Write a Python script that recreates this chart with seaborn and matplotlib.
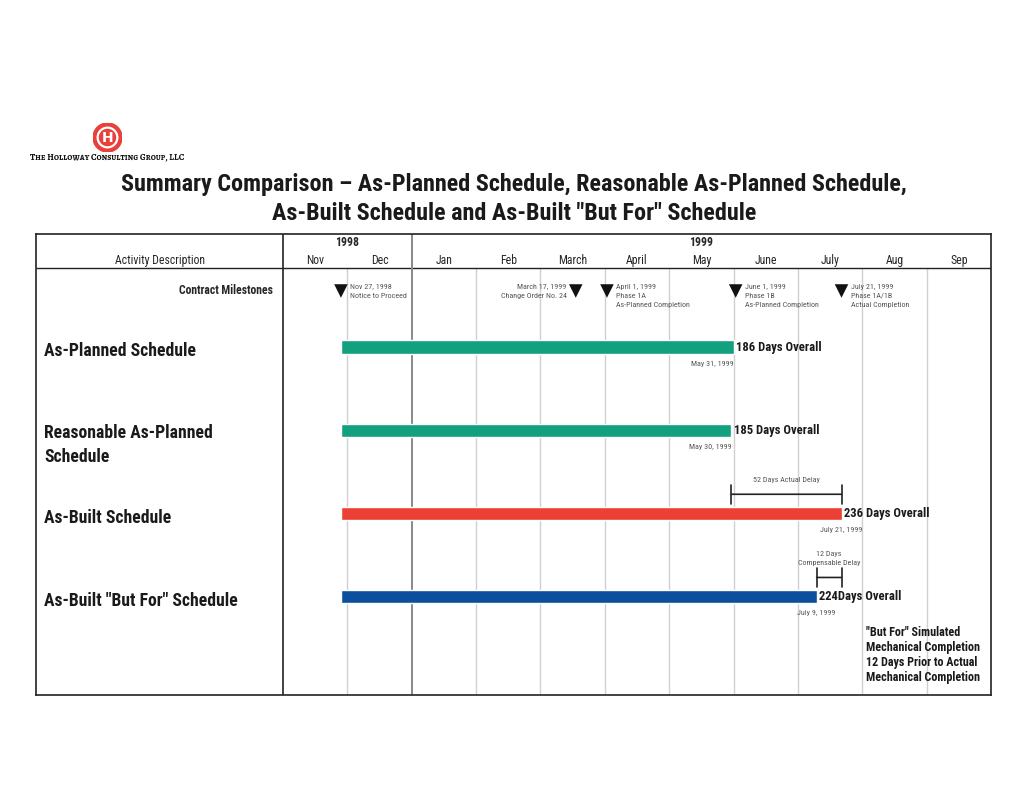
import calendar
import matplotlib
matplotlib.use('Agg')
import matplotlib.pyplot as plt
import seaborn as sns
import pandas as pd
from matplotlib.patches import Circle

# months shown on the timeline (Nov 1998 - Sep 1999)
months = ['Nov', 'Dec', 'Jan', 'Feb', 'March', 'April', 'May', 'June', 'July', 'Aug', 'Sep']
years = ['1998', '1999']
year_span = [(0, 2), (2, 11)]

# schedules
schedules = ['As-Planned Schedule', 'Reasonable As-Planned\nSchedule',
             'As-Built Schedule', 'As-Built "But For" Schedule']
sched_start = ['1998-11-27', '1998-11-27', '1998-11-27', '1998-11-27']
sched_end = ['1999-05-31', '1999-05-30', '1999-07-21', '1999-07-09']
sched_labels = ['186 Days Overall', '185 Days Overall', '236 Days Overall', '224Days Overall']
end_labels = ['May 31, 1999', 'May 30, 1999', 'July 21, 1999', 'July 9, 1999']
end_ha = ['right', 'right', 'center', 'center']
sched_colors = ['#13a07f', '#13a07f', '#ec4034', '#0c4f9c']

# contract milestones
ms_dates = ['1998-11-27', '1999-03-17', '1999-04-01', '1999-06-01', '1999-07-21']
ms_text = ['Nov 27, 1998\nNotice to Proceed',
           'March 17, 1999\nChange Order No. 24',
           'April 1, 1999\nPhase 1A\nAs-Planned Completion',
           'June 1, 1999\nPhase 1B\nAs-Planned Completion',
           'July 21, 1999\nPhase 1A/1B\nActual Completion']
ms_side = ['right', 'left', 'right', 'right', 'right']

# delay dimensions
delay_text = ['52 Days Actual Delay', '12 Days\nCompensable Delay']
delay_start = ['1999-05-30', '1999-07-09']
delay_end = ['1999-07-21', '1999-07-21']
delay_row = [2, 3]

note = '"But For" Simulated\nMechanical Completion\n12 Days Prior to Actual\nMechanical Completion'


def to_pos(s):
    # month index from Nov 1998, each month the same width
    d = pd.Timestamp(s)
    ndays = calendar.monthrange(d.year, d.month)[1]
    return (d.year - 1998) * 12 + d.month - 11 + d.day / ndays


sns.set_style('white')
plt.rcParams['font.family'] = ['Roboto Condensed', 'PT Sans Narrow', 'DejaVu Sans']

W, H = 1024, 791
fig = plt.figure(figsize=(10.24, 7.91), dpi=100)

# logo
lax = fig.add_axes([93 / W, 1 - 152 / H, 29 / W, 29 / H])
lax.set_xlim(-1, 1)
lax.set_ylim(-1, 1)
lax.axis('off')
lax.add_patch(Circle((0, 0), 1, color='#e8403a'))
lax.add_patch(Circle((0, 0), 0.68, fill=False, ec='white', lw=1.6))
lax.text(0, -0.05, 'H', color='white', ha='center', va='center', fontsize=10,
         fontweight='bold', family=['DejaVu Sans'])
fig.text(30 / W, 1 - 157 / H, 'The Holloway Consulting Group, LLC', fontsize=6.5,
         fontweight='bold', family=['Alegreya SC', 'DejaVu Serif'], va='center', color='#111111')

fig.text(514 / W, 1 - 185 / H,
         'Summary Comparison \u2013 As-Planned Schedule, Reasonable As-Planned Schedule,',
         ha='center', va='center', fontsize=17.4, fontweight='bold', color='#1a1a1a')
fig.text(514 / W, 1 - 213 / H, 'As-Built Schedule and As-Built "But For" Schedule',
         ha='center', va='center', fontsize=17.4, fontweight='bold', color='#1a1a1a')

# main table axes
ax = fig.add_axes([36 / W, 1 - 695 / H, (991 - 36) / W, (695 - 234) / H])
x_left = -(283 - 36) / 64.36
ax.set_xlim(x_left, 11)
ax.set_ylim((695 - 347) / 83.2, (234 - 347) / 83.2)
ax.set_xticks([])
ax.set_yticks([])
for sp in ax.spines.values():
    sp.set_color('#222222')
    sp.set_linewidth(1.2)

head_y = (268 - 347) / 83.2
ylo, yhi = ax.get_ylim()
ax.hlines(head_y, x_left, 11, color='#222222', lw=1, zorder=1)
ax.vlines(0, yhi, ylo, color='#222222', lw=1.2, zorder=1)
ax.vlines(2, yhi, ylo, color='#888888', lw=1.4, zorder=1)
grid_x = [i for i in range(1, 11) if i != 2]
ax.vlines(grid_x, head_y, ylo, color='#d0d0d0', lw=1, zorder=0)

# header
ax.text(x_left / 2, -1.04, 'Activity Description', ha='center', va='center', fontsize=8.5)
for i, m in enumerate(months):
    ax.text(i + 0.5, -1.04, m, ha='center', va='center', fontsize=8.5)
for yr, (a, b) in zip(years, year_span):
    ax.text((a + b) / 2, -1.25, yr, ha='center', va='center', fontsize=8.5, fontweight='bold')

# milestones
ms_y = (291 - 347) / 83.2
ax.text(-0.15, ms_y, 'Contract Milestones', ha='right', va='center', fontsize=8.4, fontweight='bold')
ms_df = pd.DataFrame({'x': [to_pos(d) for d in ms_dates], 'y': ms_y})
sns.scatterplot(data=ms_df, x='x', y='y', marker='v', s=95, color='#111111',
                edgecolor='none', ax=ax, legend=False, zorder=4)
for x, t, side in zip(ms_df['x'], ms_text, ms_side):
    dx = 0.14 if side == 'right' else -0.14
    ax.text(x + dx, ms_y - 0.09, t, ha='left' if side == 'right' else 'right', va='top',
            fontsize=5.8, color='#555555', linespacing=1.6)

# schedule bars
for i, name in enumerate(schedules):
    s, e = to_pos(sched_start[i]), to_pos(sched_end[i])
    ax.barh(i, e - s, left=s, height=0.16, color=sched_colors[i], zorder=3)
    nl = name.count('\n')
    ax.text(x_left + 0.125, i + 0.05 + 0.125 * nl, name, ha='left', va='center',
            fontsize=12.7, fontweight='bold', color='#1a1a1a', linespacing=1.4)
    ax.text(e + 0.04, i, sched_labels[i], ha='left', va='center', fontsize=9.1,
            fontweight='bold', color='#1a1a1a')
    ax.text(e, i + 0.2, end_labels[i], ha=end_ha[i], va='center', fontsize=5.8, color='#555555')

# delay dimension lines
for t, a, b, r in zip(delay_text, delay_start, delay_end, delay_row):
    xa, xb = to_pos(a), to_pos(b)
    ax.annotate('', xy=(xa, r - 0.23), xytext=(xb, r - 0.23),
                arrowprops=dict(arrowstyle='|-|', color='#222222', lw=1.2,
                                mutation_scale=7, shrinkA=0, shrinkB=0))
    ax.text((xa + xb) / 2, r - 0.37, t, ha='center', va='bottom', fontsize=5.8,
            color='#555555', linespacing=1.55)

ax.text(9.06, 3.35, note, ha='left', va='top', fontsize=8.7, fontweight='bold',
        color='#1a1a1a', linespacing=1.2)

fig.savefig('out.png', dpi=100)
